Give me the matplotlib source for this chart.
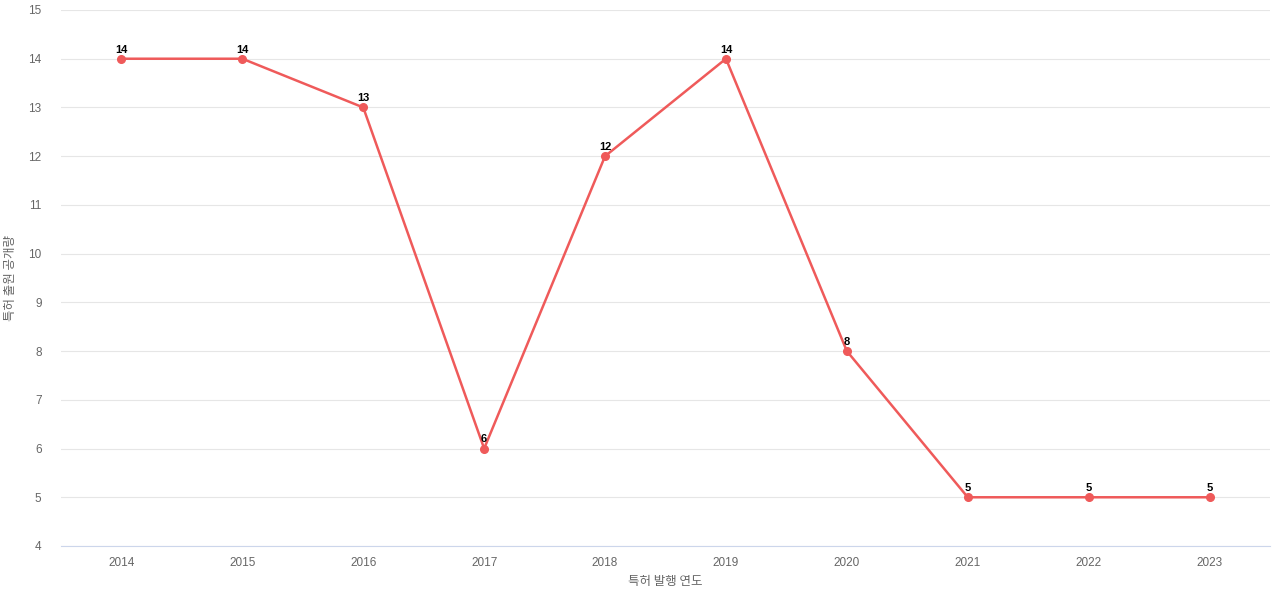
import matplotlib
matplotlib.use("Agg")
import matplotlib.pyplot as plt

plt.rcParams['font.family'] = ['Liberation Sans', 'Noto Sans CJK KR']

years = ["2014","2015","2016","2017","2018","2019","2020","2021","2022","2023"]
counts = [14,14,13,6,12,14,8,5,5,5]
yticks = list(range(4,16))

fig = plt.figure(figsize=(12.8,6), dpi=100)
ax = fig.add_axes([61/1280, 1-546/600, (1270-61)/1280, (546-10)/600])
x = list(range(len(years)))
ax.plot(x, counts, color='#ef5a5a', lw=1.8, marker='o', ms=5.5, zorder=3)
for xi, v in zip(x, counts):
    ax.annotate(str(v), (xi, v), xytext=(0, 3), textcoords='offset points',
                ha='center', va='bottom', fontsize=8, fontweight='bold', color='black')
ax.set_xlim(-0.5, len(years)-0.5)
ax.set_ylim(4, 15)
ax.set_yticks(yticks)
ax.set_xticks(x)
ax.set_xticklabels(years)
ax.tick_params(length=0, labelsize=8.5, colors='#666666')
ax.tick_params(axis='x', pad=8)
ax.tick_params(axis='y', pad=14)
ax.grid(axis='y', color='#e6e6e6', lw=0.8)
for s in ['top','right','left']:
    ax.spines[s].set_visible(False)
ax.spines['bottom'].set_color('#ccd6eb')
ax.set_xlabel('특허 발행 연도', fontsize=9, color='#666666', labelpad=4,
              family=['Noto Sans CJK KR', 'DejaVu Sans'])
ax.set_ylabel('특허 출원 공개량', fontsize=9, color='#666666', labelpad=8,
              family=['Noto Sans CJK KR', 'DejaVu Sans'])
fig.savefig('out.png')
